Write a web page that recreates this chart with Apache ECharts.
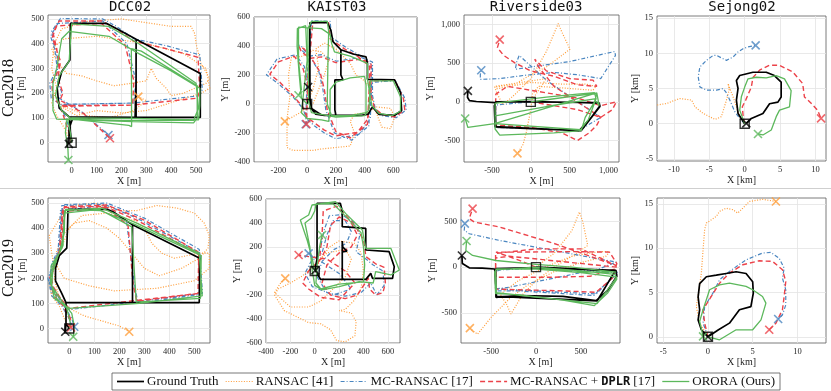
<!DOCTYPE html>
<html lang="en">
<head>
<meta charset="UTF-8" />
<title>Trajectories</title>
<script src="https://cdn.jsdelivr.net/npm/echarts@6/dist/echarts.min.js"></script>
<style>
  html, body { margin: 0; background: #fff; }
  #chart { width: 831px; height: 391px; }
</style>
</head>
<body>
<div id="chart"></div>
<script>
// ---- DCC02, Cen2018 ----
var dcc18Gt = [[0,0],[-5,40],[-8,95],[5,102],[255,102],[259,250],[259,418],[200,450],[141,482],[-5,482],[-7,334],[-40,287],[-58,220],[-50,140],[-10,104],[255,102],[517,102],[517,280],[259,418],[259,102],[5,100],[-10,60],[-11,-5]];
var dcc18Ransac = [[0,0],[-30,60],[-60,110],[-80,160],[-60,220],[-80,300],[-70,400],[-40,460],[60,490],[200,500],[400,470],[480,470],[495,440],[500,400],[520,320],[555,260],[540,240],[450,200],[400,190],[380,220],[340,260],[320,300],[300,250],[240,240],[170,230],[100,250],[40,270],[-20,280],[-60,330],[-80,380],[-30,420],[100,430],[300,400],[450,360],[540,300],[555,220],[520,200],[300,130],[200,120],[100,130],[20,110],[-50,150],[-70,200],[-40,150],[60,110],[150,100],[250,130],[300,170],[268,186]];
var dcc18Mc = [[0,0],[-5,45],[-25,105],[-50,150],[0,155],[245,160],[515,190],[525,215],[515,355],[380,392],[250,420],[180,470],[125,500],[-45,502],[-80,450],[-68,380],[-58,300],[-88,240],[-82,180],[-45,155],[250,160],[258,250],[222,400],[125,492],[-55,482],[-85,430],[-52,330],[-62,260],[-40,205],[-50,180],[40,125],[148,31]];
var dcc18Dplr = [[0,0],[-10,40],[-30,100],[-45,145],[0,148],[245,152],[505,180],[515,210],[508,345],[380,380],[250,410],[180,460],[120,492],[-50,492],[-75,445],[-60,380],[-50,300],[-80,240],[-75,180],[-40,150],[245,152],[250,250],[215,395],[120,482],[-60,472],[-78,425],[-45,330],[-55,260],[-35,200],[-47,172],[47,119],[154,18]];
var dcc18Orora = [[0,0],[-5,40],[-15,90],[0,100],[250,98],[510,92],[515,150],[515,220],[400,290],[270,360],[150,430],[-10,450],[-40,420],[-60,300],[-75,240],[-75,130],[-60,95],[245,85],[490,80],[505,100],[505,230],[280,370],[240,380],[241,65],[230,70],[0,95],[-40,130],[-65,190],[-50,270],[-10,330],[0,480],[150,470],[270,400],[500,240],[510,140],[490,90],[200,90],[-20,95],[-25,40],[-15,-25],[-13,-70]];

// ---- KAIST03, Cen2018 ----
var kai18Gt = [[0,0],[19,60],[19,300],[19,560],[140,563],[165,510],[180,430],[235,374],[320,345],[410,325],[420,280],[420,170],[609,166],[650,80],[658,-45],[610,-78],[500,-72],[455,-20],[425,-70],[380,-78],[200,-78],[193,-40],[193,166],[250,166],[235,200],[235,374],[180,430],[165,510],[140,563],[19,560],[19,300],[20,-20],[60,-70],[120,-78],[193,-78],[100,-76],[30,-30],[7,117]];
var kai18Ransac = [[0,0],[40,100],[80,250],[60,380],[120,420],[200,380],[250,330],[300,280],[340,200],[400,160],[440,110],[470,-30],[520,-160],[580,-170],[610,-90],[580,-30],[480,-20],[420,-60],[330,-70],[300,-120],[330,-200],[300,-290],[200,-300],[100,-310],[40,-320],[-100,-320],[-140,-300],[-140,-100],[-120,50],[-130,200],[-110,320],[-30,330],[40,370],[100,360],[150,300],[120,200],[80,100],[40,0],[-50,-60],[-155,-120]];
var kai18Mc = [[0,0],[15,100],[-20,260],[-80,340],[-210,310],[-284,201],[-200,140],[-100,50],[-30,-30],[-5,-100],[50,-150],[120,-200],[200,-240],[360,-210],[440,-100],[450,150],[615,160],[680,40],[690,-40],[620,-95],[520,-80],[475,-35],[455,60],[455,290],[380,320],[300,310],[205,295],[100,340],[10,330],[-50,380],[-63,409],[-40,397],[30,310],[80,230],[110,100],[130,-40],[190,-200],[310,-250],[430,-150],[445,170],[450,270],[360,340],[270,390],[170,460],[160,570],[30,575],[20,400],[0,200],[-10,-140]];
var kai18Dplr = [[0,0],[10,100],[-30,250],[-90,330],[-200,290],[-260,205],[-190,150],[-100,60],[-30,-20],[0,-90],[50,-130],[120,-180],[200,-220],[350,-195],[425,-100],[440,160],[610,165],[670,40],[680,-40],[610,-90],[520,-70],[470,-30],[445,60],[445,280],[375,310],[300,300],[200,285],[100,325],[20,315],[-40,360],[-55,395],[-20,380],[40,300],[90,220],[120,100],[140,-40],[200,-190],[300,-235],[420,-140],[435,170],[435,260],[350,330],[260,380],[160,450],[150,560],[40,568],[25,400],[5,200],[-5,-139]];
var kai18Orora = [[0,0],[-40,40],[-55,200],[-70,400],[-68,520],[-10,540],[0,300],[-40,-60],[0,-100],[100,-110],[150,-120],[160,-40],[160,100],[200,150],[300,180],[400,190],[410,130],[410,-60],[300,-80],[170,-80],[140,0],[145,300],[150,500],[140,570],[30,570],[5,520],[10,20],[30,-60],[200,-90],[400,-80],[430,-40],[440,160],[600,160],[650,50],[650,-50],[590,-80],[500,-65],[450,-10],[420,170],[420,280],[300,330],[190,360],[170,420],[160,480],[100,520],[-60,530],[-60,300],[-40,100],[-60,60]];

// ---- Riverside03, Cen2018 ----
var riv18Gt = [[0,0],[400,-5],[870,-10],[890,-50],[780,-200],[620,-375],[200,-350],[-460,-320],[-470,-50],[-450,0],[0,3],[500,-5],[880,-15],[890,-60],[650,-370],[-450,-325],[-460,-10],[-700,5],[-790,15],[-815,60],[-810,142]];
var riv18Ransac = [[0,0],[100,150],[200,300],[-466,200],[-440,120],[-360,-40],[-200,100],[0,300],[200,650],[353,1010],[400,900],[504,680],[400,600],[200,450],[0,350],[-200,230],[-466,190],[-430,170],[0,250],[400,230],[700,230],[840,200],[800,150],[400,180],[100,200],[20,100],[0,-100],[-60,-400],[-100,-550],[-172,-665]];
var riv18Mc = [[0,0],[-450,-40],[-460,-330],[200,-350],[620,-370],[900,-200],[500,70],[200,280],[-150,600],[-180,520],[-200,420],[0,450],[500,520],[1080,650],[1090,600],[900,300],[600,350],[300,380],[-100,340],[-400,300],[-650,290],[-650,350],[-638,408]];
var riv18Dplr = [[0,0],[300,-50],[600,-100],[900,-200],[1050,-100],[1100,0],[900,-50],[600,50],[300,100],[0,150],[-300,200],[-450,100],[-460,-300],[0,-330],[400,-400],[600,-500],[750,-400],[850,-300],[900,-200],[600,0],[300,200],[100,450],[50,550],[200,400],[500,300],[800,280],[850,200],[600,220],[300,330],[0,400],[-200,500],[-350,600],[-430,700],[-400,803]];
var riv18Orora = [[0,0],[300,40],[600,80],[850,110],[820,0],[700,-200],[650,-370],[300,-400],[-400,-430],[-460,-350],[-460,-20],[-400,-10],[200,60],[600,100],[820,120],[840,40],[740,-230],[640,-360],[-460,-280],[-460,-180],[200,-60],[820,40],[880,-50],[849,116],[-466,-280],[-810,-330],[-845,-215]];

// ---- Sejong02, Cen2018 (km) ----
var sej18Gt = [[0,0],[-0.94,1.46],[-1.17,3.35],[-0.94,5.0],[-1.17,6.13],[-0.7,6.84],[1.17,7.31],[3.05,7.31],[4.2,6.84],[5.16,5.9],[5.16,3.8],[4.7,3.07],[3.52,2.83],[2.58,1.46],[0.94,0.75],[0.23,0.05]];
var sej18Ransac = [[0,0],[-0.7,1.0],[-1.17,2.4],[-1.64,3.82],[-2.1,5.0],[-2.35,5.7],[-2.2,4.76],[-2.58,3.35],[-3.29,1.0],[-4.2,0.61],[-5.87,1.46],[-7.04,2.4],[-7.5,3.35],[-7.75,3.58],[-9.15,3.58],[-10.1,3.25],[-11.0,2.88],[-12.44,2.64]];
var sej18Mc = [[0,0],[-0.7,0.75],[-1.4,1.7],[-2.1,3.35],[-2.68,4.53],[-3.05,5.0],[-3.99,4.76],[-5.4,4.76],[-6.34,5.23],[-6.57,6.65],[-6.34,8.06],[-5.4,9.0],[-4.46,9.7],[-3.99,9.7],[-2.58,9.0],[-1.64,9.48],[-0.94,10.2],[-0.23,10.66],[0.47,10.9],[1.55,11.13]];
var sej18Dplr = [[0,0],[-0.23,1.2],[-0.33,2.4],[0.14,3.35],[0.94,5.2],[1.17,6.55],[2.1,7.6],[3.5,8.3],[4.93,8.3],[6.8,7.36],[8.2,5.7],[8.45,3.8],[9.4,2.9],[10.3,1.93],[10.8,0.75]];
var sej18Orora = [[0,0],[-0.7,1.93],[-0.47,3.82],[0,5.2],[0.47,6.37],[1.64,6.6],[3.05,6.5],[4.46,6.84],[5.63,6.37],[6.57,4.7],[6.34,2.4],[4.93,1.93],[4.46,1.0],[3.76,-0.9],[2.58,-1.6],[1.88,-1.46]];

// ---- DCC02, Cen2019 ----
var dcc19Gt = [[0,0],[-13,20],[-13,103],[253,103],[253,413],[175,465],[150,475],[-5,475],[-7,400],[-10,320],[-40,290],[-55,240],[-55,190],[-30,140],[-13,103],[253,103],[520,103],[522,280],[253,413],[253,103],[-13,103],[-13,20],[-16,-13]];
var dcc19Ransac = [[0,0],[-20,40],[-40,90],[-70,130],[-80,180],[-60,240],[-70,300],[-80,370],[-50,420],[-20,470],[20,490],[100,500],[200,470],[270,470],[350,490],[430,480],[500,460],[540,420],[560,370],[555,320],[520,280],[450,240],[360,210],[300,240],[250,300],[200,360],[150,400],[80,430],[20,420],[-20,380],[-50,310],[-50,250],[-20,200],[80,170],[180,150],[350,160],[500,190],[560,240],[560,300],[520,300],[420,280],[370,300],[330,340],[300,400],[260,430],[150,460],[50,450],[0,400],[-40,300],[-60,200],[-40,120],[0,80],[60,50],[130,30],[200,10],[240,-13]];
var dcc19Mc = [[0,0],[5,30],[-30,90],[-70,130],[-85,200],[-60,270],[-35,320],[-30,420],[-27,493],[150,500],[300,440],[520,315],[533,140],[273,107],[0,75],[-70,150],[-80,210],[-45,300],[-35,470],[140,490],[230,420],[260,180],[275,100],[520,135],[525,300],[270,440],[140,495],[-30,490],[-40,320],[-70,260],[-80,180],[-40,120],[10,40],[20,7]];
var dcc19Dplr = [[0,0],[5,30],[-25,90],[-62,130],[-78,200],[-55,270],[-30,320],[-25,420],[-20,485],[150,492],[300,432],[515,305],[525,140],[270,112],[0,80],[-62,150],[-72,210],[-40,300],[-28,465],[140,483],[235,412],[255,180],[270,108],[515,140],[518,295],[270,432],[140,487],[-25,482],[-35,320],[-62,260],[-72,180],[-35,120],[5,40],[7,4]];
var dcc19Orora = [[0,0],[5,20],[-10,80],[-50,120],[-75,180],[-72,250],[-40,300],[-20,380],[-18,470],[130,480],[270,420],[520,300],[532,130],[280,100],[0,80],[-60,120],[-75,200],[-45,290],[-25,330],[-20,460],[120,475],[250,405],[262,200],[268,105],[525,120],[528,290],[262,415],[125,470],[-15,475],[-30,320],[-65,250],[-70,170],[-30,110],[10,60],[20,10],[16,-33]];

// ---- KAIST03, Cen2019 ----
var kai19Gt = [[0,0],[19,100],[19,564],[210,564],[226,500],[226,369],[419,355],[419,175],[611,161],[653,36],[639,-61],[474,-61],[460,-20],[420,-70],[226,-70],[226,160],[265,165],[230,200],[226,250],[226,-70],[47,-69],[19,-20],[5,5]];
var kai19Ransac = [[0,0],[50,100],[120,200],[200,250],[330,230],[380,150],[400,0],[380,-150],[320,-250],[250,-320],[200,-330],[300,-350],[340,-420],[330,-540],[250,-590],[180,-580],[130,-490],[50,-440],[-50,-430],[-150,-380],[-250,-330],[-330,-200],[-300,-150],[-200,-100],[-100,-40],[0,50],[100,150],[250,180],[300,100],[250,-50],[150,-150],[50,-250],[-50,-300],[-200,-300],[-330,-180],[-280,-100],[-242,-61]];
var kai19Mc = [[0,0],[30,120],[80,350],[120,460],[220,470],[330,400],[370,300],[340,160],[420,100],[480,50],[560,0],[570,-120],[510,-200],[460,-100],[380,-180],[250,-210],[100,-180],[20,-50],[60,80],[160,180],[260,230],[300,330],[250,420],[150,420],[100,300],[60,150],[-30,80],[-80,-20],[-20,-130],[150,-200],[300,-150],[200,-20],[50,80],[-50,147]];
var kai19Dplr = [[0,0],[40,100],[60,300],[70,500],[180,540],[250,470],[330,380],[400,260],[420,120],[500,60],[570,30],[580,-100],[560,-180],[500,-200],[450,-150],[440,-60],[350,-200],[250,-230],[130,-200],[60,-100],[100,50],[200,150],[300,200],[350,300],[300,400],[200,450],[130,380],[100,200],[50,100],[-50,0],[-100,-100],[-50,-150],[50,-220],[200,-240],[330,-100],[250,0],[100,100],[-50,120],[-132,133]];
var kai19Orora = [[0,0],[-20,100],[-60,250],[-118,425],[-50,467],[-22,550],[171,578],[253,480],[391,341],[419,189],[625,189],[694,8],[625,-33],[500,-6],[480,-100],[364,-89],[200,-130],[61,-158],[0,-120],[-20,0],[-40,200],[-80,400],[-30,440],[0,500],[10,560],[150,560],[230,480],[380,320],[400,200],[410,50],[400,-90],[200,-110],[50,-150],[10,-100],[20,50],[40,200],[60,300]];

// ---- Riverside03, Cen2019 ----
var riv19Gt = [[0,0],[500,-20],[890,-35],[900,-100],[800,-250],[669,-366],[300,-320],[-200,-310],[-446,-330],[-450,-50],[-440,-15],[0,-5],[500,-25],[880,-40],[680,-370],[-440,-320],[-460,-20],[-600,-10],[-743,-7],[-820,40],[-825,128]];
var riv19Ransac = [[0,0],[200,150],[400,400],[483,604],[520,500],[576,238],[450,150],[200,0],[0,-150],[-150,-300],[-279,-513],[-330,-400],[-400,-300],[-200,-150],[100,0],[400,120],[700,170],[820,170],[780,120],[500,50],[200,-50],[-100,-200],[-300,-350],[-500,-550],[-651,-733],[-700,-700],[-736,-667]];
var riv19Mc = [[0,0],[400,-20],[880,-40],[900,-80],[700,-250],[650,-310],[300,-290],[-200,-260],[-450,-260],[-450,-50],[-400,-30],[0,-10],[880,-60],[911,-55],[670,-293],[-446,-238],[-440,-230],[-300,-220],[200,-120],[700,-20],[892,55],[600,108],[200,182],[-409,293],[-743,366],[-799,403],[-792,476]];
var riv19Dplr = [[0,0],[-200,80],[-446,165],[-200,165],[400,170],[818,165],[900,40],[880,-20],[600,-100],[200,-110],[-446,-110],[-450,100],[-300,120],[300,60],[900,0],[850,-120],[669,-275],[300,-260],[-450,-240],[-450,150],[0,200],[500,200],[892,18],[600,120],[200,260],[-409,440],[-688,494],[-743,531],[-706,641]];
var riv19Orora = [[0,0],[500,-40],[880,-80],[900,-130],[800,-280],[650,-420],[300,-360],[-200,-300],[-450,-290],[-460,-50],[-440,-20],[0,-20],[500,-60],[900,-110],[680,-400],[-440,-280],[-450,-30],[0,0],[400,-50],[892,-55],[400,0],[0,30],[-446,73],[-706,128],[-781,183],[-773,286]];

// ---- Sejong02, Cen2019 (km) ----
var sej19Gt = [[0,0],[1.18,0.79],[2.4,1.54],[3.52,3.05],[4.8,3.4],[5.07,4.92],[5.0,6.2],[4.26,7.14],[3.15,7.33],[2.04,7.14],[0.93,6.95],[-0.18,6.77],[-0.93,6.0],[-1.1,4.5],[-0.93,3.05],[-1.1,1.9],[-0.74,0.79],[0,0]];
var sej19Ransac = [[0,0],[-0.93,1.54],[-1.3,3.42],[-1.0,5.3],[-0.74,7.18],[-0.55,9.81],[-0.37,12.07],[-0.18,12.82],[0.93,13.57],[1.3,14.14],[2.04,14.5],[2.78,14.33],[3.33,13.95],[3.89,14.5],[4.63,15.26],[6.1,15.5],[7.6,15.26]];
var sej19Mc = [[0,0],[-0.55,1.54],[-0.37,3.42],[0.55,4.92],[1.3,6.43],[2.4,7.37],[4.26,8.68],[6.1,9.44],[7.04,9.51],[7.96,8.87],[8.52,7.74],[8.33,6.62],[8.7,5.3],[8.7,3.6],[8.33,2.48],[7.85,2.0]];
var sej19Dplr = [[0,0],[-0.37,1.54],[-0.55,3.05],[0.37,4.55],[1.3,6.05],[2.4,7.18],[3.89,8.12],[5.74,8.57],[7.22,8.5],[8.33,7.56],[8.7,6.24],[8.52,4.55],[8.33,3.05],[7.6,1.54],[6.85,0.79]];
var sej19Orora = [[0,0],[1.3,-0.34],[3.15,0.79],[5.0,0.79],[5.93,1.9],[6.48,3.8],[6.1,4.55],[5.0,5.3],[4.26,5.68],[2.4,6.05],[1.3,5.86],[0.18,5.3],[-0.18,4.17],[-0.55,3.05],[-0.93,1.73],[-0.55,0.04]];

// tick values
var ticksDcc = [0, 100, 200, 300, 400, 500];
var ticksKaiX18 = [-200, 0, 200, 400, 600];
var ticksKaiY = [-400, -200, 0, 200, 400, 600];
var ticksKaiX19 = [-400, -200, 0, 200, 400, 600];
var ticksKaiY19 = [-600, -400, -200, 0, 200, 400, 600];
var ticksRiv18 = [-500, 0, 500, 1000];
var ticksRiv19 = [-500, 0, 500];
var ticksSejX18 = [-10, -5, 0, 5, 10];
var ticksSejY18 = [-5, 0, 5, 10, 15];
var ticksSejX19 = [-5, 0, 5, 10];
var ticksSejY19 = [0, 5, 10, 15];

var methods = ['Ground Truth', 'RANSAC [41]', 'MC-RANSAC [17]', 'MC-RANSAC + DPLR [17]', 'ORORA (Ours)'];
var colors = ['#000000', '#ff9d3a', '#4a86c0', '#ec4249', '#5cb85c'];
var dashes = ['solid', [1, 1.6], [4, 2, 1, 2], [5, 3], 'solid'];
var widths = [1.7, 1.2, 1.2, 1.4, 1.3];
var drawOrder = [1, 2, 3, 0, 4];

var serif = "'Liberation Serif', 'DejaVu Serif', serif";
var mono = "'DejaVu Sans Mono', 'Liberation Mono', monospace";

// panel layout: [left, top, right, bottom] in px
var panels = [
  { box: [48, 15, 210, 162], x: [-95, 556], y: [-78, 516], xt: ticksDcc, yt: ticksDcc, unit: 'm', yGap: 22,
    tracks: [dcc18Gt, dcc18Ransac, dcc18Mc, dcc18Dplr, dcc18Orora] },
  { box: [254, 17, 417, 162], x: [-370, 765], y: [-400, 600], xt: ticksKaiX18, yt: ticksKaiY, unit: 'm', yGap: 20,
    tracks: [kai18Gt, kai18Ransac, kai18Mc, kai18Dplr, kai18Orora] },
  { box: [464, 15, 619, 162], x: [-860, 1135], y: [-776, 1121], xt: ticksRiv18, yt: ticksRiv18, unit: 'm', yGap: 29,
    tracks: [riv18Gt, riv18Ransac, riv18Mc, riv18Dplr, riv18Orora] },
  { box: [657, 16, 826, 161], x: [-12.4, 11.5], y: [-5.3, 15.3], xt: ticksSejX18, yt: ticksSejY18, unit: 'km', yGap: 17,
    tracks: [sej18Gt, sej18Ransac, sej18Mc, sej18Dplr, sej18Orora] },
  { box: [48, 198, 210, 343], x: [-85, 563], y: [-58, 520], xt: ticksDcc, yt: ticksDcc, unit: 'm', yGap: 19,
    tracks: [dcc19Gt, dcc19Ransac, dcc19Mc, dcc19Dplr, dcc19Orora] },
  { box: [266, 199, 400, 343], x: [-400, 700], y: [-600, 600], xt: ticksKaiX19, yt: ticksKaiY19, unit: 'm', yGap: 22,
    tracks: [kai19Gt, kai19Ransac, kai19Mc, kai19Dplr, kai19Orora] },
  { box: [461, 198, 620, 343], x: [-835, 935], y: [-830, 757], xt: ticksRiv19, yt: ticksRiv19, unit: 'm', yGap: 24,
    tracks: [riv19Gt, riv19Ransac, riv19Mc, riv19Dplr, riv19Orora] },
  { box: [657, 198, 826, 343], x: [-5.7, 13.2], y: [-0.7, 15.65], xt: ticksSejX19, yt: ticksSejY19, unit: 'km', yGap: 16,
    tracks: [sej19Gt, sej19Ransac, sej19Mc, sej19Dplr, sej19Orora] }
];

function fmt(v) {
  return Math.abs(v) >= 1000 ? v.toLocaleString('en-US') : String(v);
}

var labelStyle = { fontFamily: serif, fontSize: 8.5, color: '#262626' };
var nameStyle = { fontFamily: serif, fontSize: 10, color: '#262626' };
var crossPath = 'path://M0,0L10,10M10,0L0,10';

var grids = [], xAxes = [], yAxes = [], series = [];

panels.forEach(function (p, i) {
  grids.push({
    left: p.box[0], top: p.box[1],
    width: p.box[2] - p.box[0], height: p.box[3] - p.box[1],
    show: true, borderColor: '#5a5a5a', borderWidth: 0.8, backgroundColor: '#fff'
  });
  xAxes.push({
    gridIndex: i, type: 'value', min: p.x[0], max: p.x[1],
    axisLine: { show: false },
    axisTick: { show: false, customValues: p.xt },
    axisLabel: Object.assign({ customValues: p.xt, margin: 4, formatter: fmt }, labelStyle),
    splitLine: { show: true, lineStyle: { color: '#e3e3e3', width: 0.8 } },
    name: 'X [' + p.unit + ']', nameLocation: 'middle', nameGap: 14, nameTextStyle: nameStyle
  });
  yAxes.push({
    gridIndex: i, type: 'value', min: p.y[0], max: p.y[1],
    axisLine: { show: false },
    axisTick: { show: false, customValues: p.yt },
    axisLabel: Object.assign({ customValues: p.yt, margin: 4, formatter: fmt }, labelStyle),
    splitLine: { show: true, lineStyle: { color: '#e3e3e3', width: 0.8 } },
    name: 'Y [' + p.unit + ']', nameLocation: 'middle', nameGap: p.yGap, nameTextStyle: nameStyle
  });

  drawOrder.forEach(function (m, k) {
    var track = p.tracks[m];
    series.push({
      type: 'line', xAxisIndex: i, yAxisIndex: i, name: methods[m],
      data: track, showSymbol: false, symbol: 'none', animation: false, z: 2 + k,
      lineStyle: { color: colors[m], width: widths[m], type: dashes[m] }
    });
    series.push({
      type: 'scatter', xAxisIndex: i, yAxisIndex: i, name: methods[m],
      data: [track[track.length - 1]], symbol: crossPath, symbolSize: 8, animation: false, z: 10,
      itemStyle: { color: 'transparent', borderColor: colors[m], borderWidth: 1.6 }
    });
  });
  // start square
  series.push({
    type: 'scatter', xAxisIndex: i, yAxisIndex: i,
    data: [p.tracks[0][0]], symbol: 'rect', symbolSize: 9, animation: false, z: 11,
    itemStyle: { color: 'transparent', borderColor: '#000', borderWidth: 1.4 }
  });
});

// titles, row labels, separator, legend
var graphics = [];
var titles = [['DCC02', 130], ['KAIST03', 337], ['Riverside03', 536], ['Sejong02', 742]];
titles.forEach(function (t) {
  graphics.push({ type: 'text', x: t[1], y: 7, style: { text: t[0], font: '14px ' + mono, fill: '#111', textAlign: 'center', textVerticalAlign: 'middle' } });
});
graphics.push({ type: 'text', x: 9, y: 88, rotation: Math.PI / 2, style: { text: 'Cen2018', font: '16px ' + serif, fill: '#111', textAlign: 'center', textVerticalAlign: 'middle' } });
graphics.push({ type: 'text', x: 9, y: 268, rotation: Math.PI / 2, style: { text: 'Cen2019', font: '16px ' + serif, fill: '#111', textAlign: 'center', textVerticalAlign: 'middle' } });
graphics.push({ type: 'line', shape: { x1: 0, y1: 188.5, x2: 831, y2: 188.5 }, style: { stroke: '#cfcfcf', lineWidth: 1 } });

// legend: items laid out in sequence, spare room shared between them
var legendBox = [112, 373, 780, 390];
var legendY = (legendBox[1] + legendBox[3]) / 2;
var legendFont = '13px ' + serif;
var dplrFont = 'bold 12px ' + mono;
var ctx = document.createElement('canvas').getContext('2d');
function textWidth(t, f) { ctx.font = f; return ctx.measureText(t).width; }
var itemWidths = methods.map(function (name, m) {
  if (m === 3) {
    return textWidth('MC-RANSAC + ', legendFont) + textWidth('DPLR', dplrFont) + textWidth(' [17]', legendFont);
  }
  return textWidth(name, legendFont);
});
var lineLen = 27, lineGap = 3, pad = 5;
var used = itemWidths.reduce(function (a, b) { return a + b; }, 0) + methods.length * (lineLen + lineGap);
var spare = (legendBox[2] - legendBox[0] - 2 * pad - used) / (methods.length - 1);
graphics.push({ type: 'rect', shape: { x: legendBox[0], y: legendBox[1], width: legendBox[2] - legendBox[0], height: legendBox[3] - legendBox[1] },
  style: { fill: '#fff', stroke: '#555', lineWidth: 0.8 }, z: 20 });
var cursor = legendBox[0] + pad;
methods.forEach(function (name, m) {
  graphics.push({ type: 'line', z: 21, shape: { x1: cursor, y1: legendY, x2: cursor + lineLen, y2: legendY },
    style: { stroke: colors[m], lineWidth: widths[m], lineDash: dashes[m] === 'solid' ? null : dashes[m] } });
  cursor += lineLen + lineGap;
  var txt = m === 3
    ? { text: '{a|MC-RANSAC + }{b|DPLR}{a| [17]}', rich: { a: { font: legendFont, fill: '#111' }, b: { font: dplrFont, fill: '#111' } } }
    : { text: name, font: legendFont, fill: '#111' };
  txt.textAlign = 'left';
  txt.textVerticalAlign = 'middle';
  graphics.push({ type: 'text', z: 21, x: cursor, y: legendY, style: txt });
  cursor += itemWidths[m] + spare;
});

var chart = echarts.init(document.getElementById('chart'));
chart.setOption({
  animation: false,
  backgroundColor: '#fff',
  grid: grids,
  xAxis: xAxes,
  yAxis: yAxes,
  series: series,
  graphic: graphics
});
</script>
</body>
</html>
